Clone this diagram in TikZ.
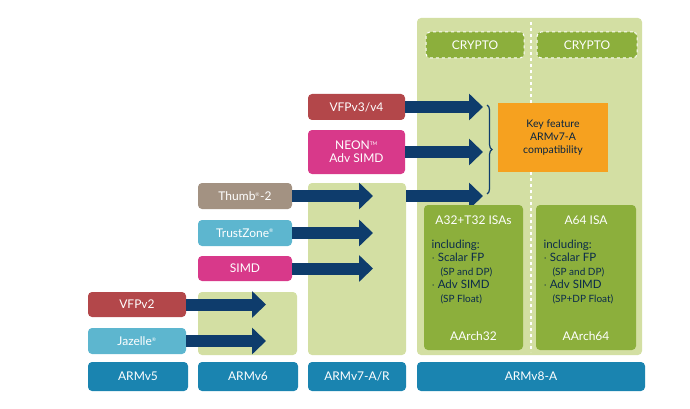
\documentclass[tikz,border=0pt]{standalone}
\usepackage{fontspec}
\setmainfont{Lato}
\usetikzlibrary{decorations.pathreplacing}
\definecolor{cred}{HTML}{B3474A}
\definecolor{cpink}{HTML}{D8398A}
\definecolor{ctaupe}{HTML}{A39282}
\definecolor{clblue}{HTML}{5DB6CF}
\definecolor{cblue}{HTML}{1A84B0}
\definecolor{cpanel}{HTML}{D3DFA3}
\definecolor{cgreen}{HTML}{8CAF3C}
\definecolor{carrow}{HTML}{0E3C6C}
\definecolor{corange}{HTML}{F6A11F}
\tikzset{
 feat/.style={rounded corners=4pt, text=white, font=\fontsize{12}{13}\selectfont, align=center},
 panel/.style={fill=cpanel, rounded corners=4pt},
 fat/.style={draw=carrow, line width=12pt, -{Triangle[length=14pt,width=26pt]}, shorten >=0pt},
}
\usetikzlibrary{arrows.meta}
\begin{document}
\begin{tikzpicture}[x=1pt,y=-1pt]
\useasboundingbox (0,0) rectangle (690,409);
% panels
\fill[panel] (198,292) rectangle (297,355);
\fill[panel] (308,183) rectangle (406,355);
\fill[panel] (417,18) rectangle (642,355);
\draw[white, dashed, line width=1.5pt] (531,22) -- (531,352);
% bottom labels
\node[feat, fill=cblue, minimum width=100pt, minimum height=29pt] (v5) at (138,376.5) {ARMv5};
\node[feat, fill=cblue, minimum width=100pt, minimum height=29pt] (v6) at (248,376.5) {ARMv6};
\node[feat, fill=cblue, minimum width=98pt, minimum height=29pt] (v7) at (357,376.5) {ARMv7-A/R};
\node[feat, fill=cblue, minimum width=228pt, minimum height=29pt] (v8) at (531,376.5) {ARMv8-A};
% crypto
\node[feat, fill=cgreen, draw=white, dashed, line width=1pt, minimum width=98pt, minimum height=26pt] (c1) at (475,45) {CRYPTO};
\node[feat, fill=cgreen, draw=white, dashed, line width=1pt, minimum width=100pt, minimum height=26pt] (c2) at (587,45) {CRYPTO};
% feature boxes
\node[feat, fill=cred, minimum width=98pt, minimum height=25pt] (vfp2) at (137,304.5) {VFPv2};
\node[feat, fill=clblue, minimum width=98pt, minimum height=26pt] (jaz) at (137,341) {Jazelle\textsuperscript{\tiny\textregistered}};
\node[feat, fill=cpink, minimum width=94pt, minimum height=25pt] (simd) at (245,268.5) {SIMD};
\node[feat, fill=clblue, minimum width=94pt, minimum height=26pt] (tz) at (245,233) {TrustZone\textsuperscript{\tiny\textregistered}};
\node[feat, fill=ctaupe, minimum width=94pt, minimum height=26pt] (th) at (245,196) {Thumb\textsuperscript{\tiny\textregistered}-2};
\node[feat, fill=cred, minimum width=97pt, minimum height=26pt] (vfp3) at (356.5,107) {VFPv3/v4};
\node[feat, fill=cpink, minimum width=97pt, minimum height=44pt, font=\fontsize{12}{13}\selectfont] (neon) at (356.5,152) {NEON\textsuperscript{\tiny TM}\\Adv SIMD};
% arrow targets
\coordinate (t1) at (266,304.5);
\coordinate (t2) at (266,341);
\coordinate (t3) at (373,268.5);
\coordinate (t4) at (373,233);
\coordinate (t5) at (373,196);
\coordinate (t6) at (483,107);
\coordinate (t7) at (483,152);
\coordinate (t8) at (483,196);
\draw[fat] (vfp2.east) -- (t1);
\draw[fat] (jaz.east) -- (t2);
\draw[fat] (simd.east) -- (t3);
\draw[fat] (tz.east) -- (t4);
\draw[fat] (th.east) -- (t5);
\draw[fat] (vfp3.east) -- (t6);
\draw[fat] (neon.east) -- (t7);
\draw[fat] (406,196) -- (t8);
% brace and orange
\draw[carrow, line width=1.2pt, decorate, decoration={brace, amplitude=5pt}] (487,105) -- (487,194);
\node[fill=corange, minimum width=110pt, minimum height=69pt, align=center, text=carrow!60!black, font=\fontsize{10.5}{13}\selectfont] (key) at (553,137.5) {Key feature\\ARMv7-A\\compatibility};
% ISA boxes
\node[fill=cgreen, rounded corners=4pt, minimum width=99pt, minimum height=145pt] (a32) at (473.5,277.5) {};
\node[fill=cgreen, rounded corners=4pt, minimum width=100pt, minimum height=145pt] (a64) at (586,277.5) {};
\node[text=white, font=\fontsize{12}{13}\selectfont] at (473.5,220) {A32+T32 ISAs};
\node[text=white, font=\fontsize{12}{13}\selectfont] at (586,220) {A64 ISA};
\node[text=carrow!70!black, anchor=north west, align=left, font=\fontsize{11.5}{14.5}\selectfont] at (428,236) {including:\\[-1pt]$\cdot$ Scalar FP\\[-1pt]\hspace{9pt}{\fontsize{10}{12}\selectfont(SP and DP)}\\[-1pt]$\cdot$ Adv SIMD\\[-1pt]\hspace{9pt}{\fontsize{10}{12}\selectfont(SP Float)}};
\node[text=carrow!70!black, anchor=north west, align=left, font=\fontsize{11.5}{14.5}\selectfont] at (540,236) {including:\\[-1pt]$\cdot$ Scalar FP\\[-1pt]\hspace{9pt}{\fontsize{10}{12}\selectfont(SP and DP)}\\[-1pt]$\cdot$ Adv SIMD\\[-1pt]\hspace{9pt}{\fontsize{10}{12}\selectfont(SP+DP Float)}};
\node[text=white, font=\fontsize{12}{13}\selectfont] at (473.5,336) {AArch32};
\node[text=white, font=\fontsize{12}{13}\selectfont] at (586,336) {AArch64};
\end{tikzpicture}
\end{document}
